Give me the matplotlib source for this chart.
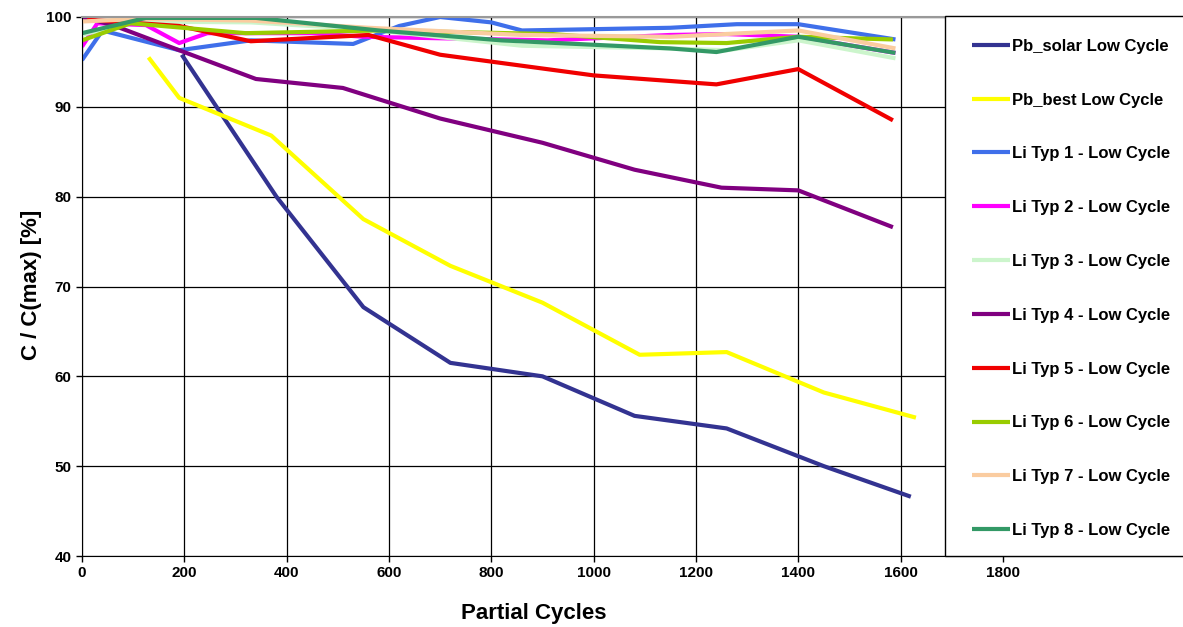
import matplotlib.pyplot as plt
from matplotlib.patches import Rectangle

plt.rcParams['font.family'] = ['Liberation Sans', 'DejaVu Sans']
plt.rcParams['font.weight'] = 'bold'

# Daten
pb_solar_x = [195, 380, 550, 720, 900, 1080, 1260, 1450, 1620]
pb_solar_y = [95.8, 80.0, 67.7, 61.5, 60.0, 55.6, 54.2, 50.0, 46.6]

pb_best_x = [130, 190, 370, 550, 720, 900, 1090, 1260, 1450, 1630]
pb_best_y = [95.5, 91.0, 86.8, 77.5, 72.3, 68.2, 62.4, 62.7, 58.2, 55.4]

li1_x = [0, 40, 190, 330, 530, 620, 700, 800, 860, 1150, 1280, 1400, 1590]
li1_y = [95.2, 98.5, 96.3, 97.4, 97.0, 99.0, 100.0, 99.4, 98.5, 98.8, 99.2, 99.2, 97.5]

li2_x = [0, 30, 125, 190, 245, 450, 550, 910, 1150, 1260, 1400, 1590]
li2_y = [96.7, 99.3, 99.1, 97.1, 98.2, 98.2, 97.8, 97.4, 98.0, 98.1, 97.8, 96.0]

li3_x = [0, 100, 330, 560, 860, 1150, 1260, 1400, 1590]
li3_y = [98.0, 99.5, 99.4, 98.6, 96.8, 96.5, 96.3, 97.4, 95.4]

li4_x = [0, 60, 190, 340, 510, 700, 900, 1080, 1250, 1400, 1585]
li4_y = [100.0, 99.1, 96.3, 93.1, 92.1, 88.7, 86.0, 83.0, 81.0, 80.7, 76.6]

li5_x = [10, 190, 330, 560, 700, 1000, 1240, 1400, 1585]
li5_y = [99.7, 99.0, 97.3, 98.0, 95.8, 93.5, 92.5, 94.2, 88.5]

li6_x = [0, 95, 320, 580, 920, 1130, 1260, 1400, 1585]
li6_y = [97.4, 99.3, 98.2, 98.5, 98.1, 97.2, 97.1, 97.8, 97.5]

li7_x = [0, 120, 330, 560, 860, 1150, 1400, 1590]
li7_y = [99.5, 99.8, 99.6, 98.8, 98.0, 97.8, 98.5, 96.5]

li8_x = [0, 125, 340, 580, 820, 1150, 1240, 1400, 1590]
li8_y = [98.2, 99.9, 99.9, 98.5, 97.4, 96.5, 96.1, 97.8, 96.0]

series = [
    (pb_solar_x, pb_solar_y, '#333391', 'Pb_solar Low Cycle'),
    (pb_best_x, pb_best_y, '#FFFF00', 'Pb_best Low Cycle'),
    (li1_x, li1_y, '#3F6FEA', 'Li Typ 1 - Low Cycle'),
    (li2_x, li2_y, '#FF00FF', 'Li Typ 2 - Low Cycle'),
    (li3_x, li3_y, '#CCF5CC', 'Li Typ 3 - Low Cycle'),
    (li4_x, li4_y, '#800080', 'Li Typ 4 - Low Cycle'),
    (li5_x, li5_y, '#F00000', 'Li Typ 5 - Low Cycle'),
    (li6_x, li6_y, '#99CC00', 'Li Typ 6 - Low Cycle'),
    (li7_x, li7_y, '#FACCA0', 'Li Typ 7 - Low Cycle'),
    (li8_x, li8_y, '#339966', 'Li Typ 8 - Low Cycle'),
]

fig = plt.figure(figsize=(11.83, 6.27), dpi=100)
ax = fig.add_axes([82 / 1183, 1 - 556 / 627, 1 - 82 / 1183, 539 / 627])

for x, y, c, lab in series:
    ax.plot(x, y, color=c, lw=3, label=lab, solid_capstyle='butt')

ax.set_xlim(0, 2152)
ax.set_ylim(40, 100)
ax.set_xticks(range(0, 1801, 200))
ax.set_yticks(range(40, 101, 10))
ax.grid(True, color='black', lw=0.9)
ax.set_axisbelow(True)
ax.tick_params(labelsize=11, length=4, width=1, direction='out')
for lbl in ax.get_xticklabels() + ax.get_yticklabels():
    lbl.set_fontweight('bold')

ax.spines['right'].set_visible(False)
ax.spines['top'].set_color('#999999')
ax.spines['top'].set_linewidth(1.5)

ax.set_xlabel('Partial Cycles', fontsize=16, fontweight='bold')
ax.xaxis.set_label_coords(0.41, -0.088)
ax.set_ylabel('C / C(max) [%]', fontsize=16, fontweight='bold')
ax.yaxis.set_label_coords(-0.036, 0.503)

# Legendenkasten
box = Rectangle((945 / 1183, 1 - 556 / 627), 0.3, 540 / 627, transform=fig.transFigure,
                facecolor='white', edgecolor='black', lw=1, zorder=5)
fig.patches.append(box)

leg = fig.legend(loc='upper left', bbox_to_anchor=(965 / 1183, 1 - 32 / 627),
                 frameon=False, handlelength=2.3, handletextpad=0.1,
                 labelspacing=2.33, borderaxespad=0, prop={'weight': 'bold', 'size': 12})
leg.set_zorder(6)

fig.savefig('out.png', dpi=100)
